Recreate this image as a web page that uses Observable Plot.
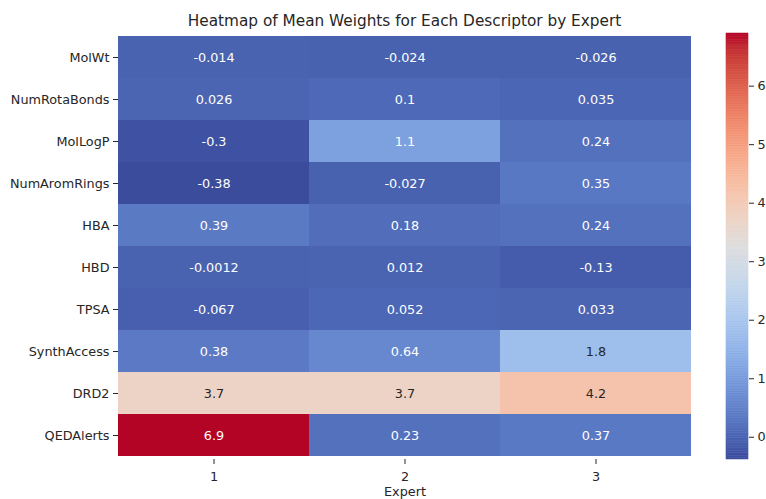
<!DOCTYPE html>
<html>
<head>
<meta charset="utf-8">
<script src="https://cdn.jsdelivr.net/npm/d3@7"></script>
<script src="https://cdn.jsdelivr.net/npm/@observablehq/plot@0.6"></script>
<style>
  html, body { margin: 0; padding: 0; background: #fff; }
  #wrap { position: relative; width: 766px; height: 499px; font-family: "DejaVu Sans", sans-serif; color: #262626; }
  #title { position: absolute; left: 118px; width: 573px; top: 12px; text-align: center; font-size: 15.3px; line-height: 18px; }
  #main { position: absolute; left: 0; top: 0; }
  #cbar { position: absolute; left: 700px; top: 23px; }
</style>
</head>
<body>
<div id="wrap">
  <div id="main"></div>
  <div id="cbar"></div>
  <div id="title">Heatmap of Mean Weights for Each Descriptor by Expert</div>
</div>
<script>
const descriptors = ["MolWt", "NumRotaBonds", "MolLogP", "NumAromRings", "HBA", "HBD", "TPSA", "SynthAccess", "DRD2", "QEDAlerts"];
const experts = ["1", "2", "3"];
const expert1 = [-0.014, 0.026, -0.3, -0.38, 0.39, -0.0012, -0.067, 0.38, 3.7, 6.9];
const expert2 = [-0.024, 0.1, 1.1, -0.027, 0.18, 0.012, 0.052, 0.64, 3.7, 0.23];
const expert3 = [-0.026, 0.035, 0.24, 0.35, 0.24, -0.13, 0.033, 1.8, 4.2, 0.37];
const colorbarTicks = [0, 1, 2, 3, 4, 5, 6];
const vmin = -0.38, vmax = 6.9;

// matplotlib "coolwarm" control colours
const coolwarm = [
  [59,76,192],[68,90,204],[77,104,215],[87,117,225],[98,130,234],[108,142,241],[119,154,247],[130,165,251],
  [141,176,254],[152,185,255],[163,194,255],[174,201,253],[184,208,249],[194,213,244],[204,217,238],[213,219,230],
  [221,221,221],[229,216,209],[236,211,197],[241,204,185],[245,196,173],[247,187,160],[247,177,148],[247,166,135],
  [244,154,123],[241,141,111],[236,127,99],[229,112,88],[222,96,77],[213,80,66],[203,62,56],[192,40,47],[180,4,38]
].map(([r,g,b]) => `rgb(${r},${g},${b})`);
const baseInterp = d3.piecewise(d3.interpolateRgb, coolwarm);
// slightly muted blues, as in the reference picture
const interp = t => {
  const c = d3.rgb(baseInterp(t));
  if (c.b > c.g && c.b > c.r) c.b = c.b - 0.3 * (c.b - c.g);
  return c.formatRgb();
};

const series = [expert1, expert2, expert3];
const data = [];
descriptors.forEach((d, i) => {
  experts.forEach((e, j) => data.push({descriptor: d, expert: e, value: series[j][i]}));
});

function luminance(v) {
  const c = d3.rgb(baseInterp((v - vmin) / (vmax - vmin)));
  const lin = x => { x /= 255; return x <= 0.03928 ? x / 12.92 : Math.pow((x + 0.055) / 1.055, 2.4); };
  return 0.2126 * lin(c.r) + 0.7152 * lin(c.g) + 0.0722 * lin(c.b);
}
const light = data.filter(d => luminance(d.value) > 0.408);
const dark = data.filter(d => luminance(d.value) <= 0.408);

const colorOpts = {type: "linear", domain: [vmin, vmax], interpolate: interp, clamp: true};

const main = Plot.plot({
  width: 766,
  height: 499,
  marginLeft: 118,
  marginRight: 75,
  marginTop: 33,
  marginBottom: 40,
  style: {fontFamily: "DejaVu Sans, sans-serif", fontSize: "12.8px", color: "#262626", background: "white"},
  x: {domain: experts, padding: 0, label: null},
  y: {domain: descriptors, padding: 0, label: null},
  color: colorOpts,
  marks: [
    Plot.cell(data, {x: "expert", y: "descriptor", fill: "value", inset: 0}),
    Plot.text(dark, {x: "expert", y: "descriptor", text: d => String(d.value), fill: "white", fontSize: 12.8}),
    Plot.text(light, {x: "expert", y: "descriptor", text: d => String(d.value), fill: "#262626", fontSize: 12.8}),
    Plot.axisX({tickSize: 5, tickPadding: 7, fontSize: 12.8, label: null}),
    Plot.axisY({tickSize: 5, tickPadding: 4, fontSize: 12.8, label: null}),
    Plot.text(["Expert"], {frameAnchor: "bottom", dy: 36, fontSize: 12.8, fill: "#262626"})
  ]
});
document.getElementById("main").appendChild(main);

const steps = 256;
const bands = d3.range(steps).map(i => ({
  y1: vmin + (vmax - vmin) * i / steps,
  y2: vmin + (vmax - vmin) * (i + 1) / steps,
  v: vmin + (vmax - vmin) * (i + 0.5) / steps
}));
const cbar = Plot.plot({
  width: 66,
  height: 446,
  marginLeft: 26,
  marginRight: 18,
  marginTop: 10,
  marginBottom: 10,
  style: {fontFamily: "DejaVu Sans, sans-serif", fontSize: "12.8px", color: "#262626", background: "transparent"},
  x: {domain: [0, 1], axis: null},
  y: {domain: [vmin, vmax], axis: null},
  color: colorOpts,
  marks: [
    Plot.rect(bands, {x1: 0, x2: 1, y1: "y1", y2: "y2", fill: "v", stroke: "v", strokeWidth: 0.5}),
    Plot.axisY({anchor: "right", ticks: colorbarTicks, tickSize: 5, tickPadding: 4, fontSize: 12.8, tickFormat: d => String(d), label: null})
  ]
});
document.getElementById("cbar").appendChild(cbar);
</script>
</body>
</html>
